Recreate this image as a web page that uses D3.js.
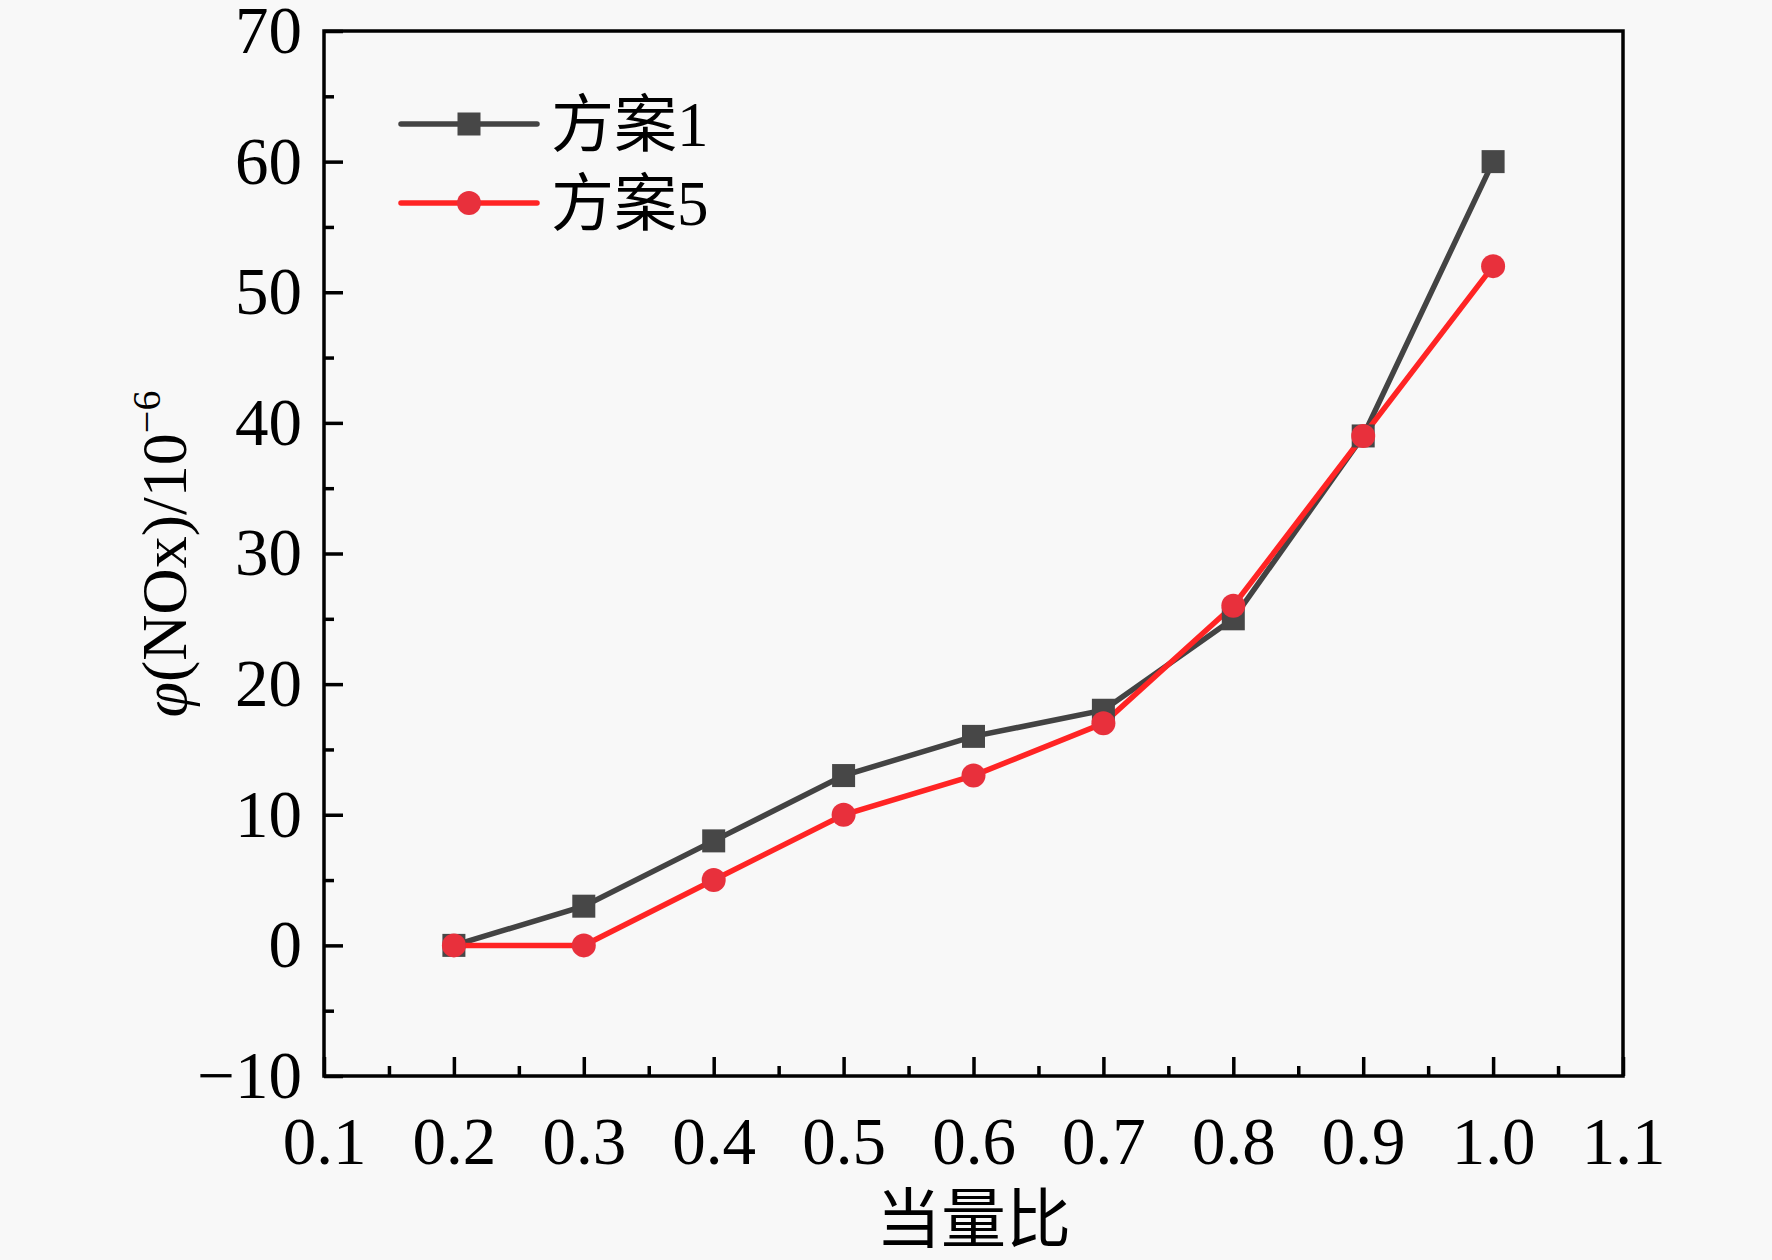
<!DOCTYPE html>
<html><head><meta charset="utf-8">
<script src="https://cdn.jsdelivr.net/npm/d3@7"></script>
<style>
html,body{margin:0;padding:0;background:#f8f8f8;}
svg{display:block;}
</style></head>
<body>
<script>
const xValues = [0.2, 0.3, 0.4, 0.5, 0.6, 0.7, 0.8, 0.9, 1.0];
const scheme1 = [0, 3, 8, 13, 16, 18, 25, 39, 60];
const scheme5 = [0, 0, 5, 10, 13, 17, 26, 39, 52];
const seriesNames = ["方案1", "方案5"];
const xTicks = [0.1, 0.2, 0.3, 0.4, 0.5, 0.6, 0.7, 0.8, 0.9, 1.0, 1.1];
const yTicks = [-10, 0, 10, 20, 30, 40, 50, 60, 70];
const xLabel = "当量比";

const W = 1772, H = 1260;
const L = 324, R = 1623, T = 31, B = 1076;
const FONT = "'Liberation Serif', 'Times New Roman', 'Noto Sans CJK SC', serif";

const svg = d3.select("body").append("svg").attr("width", W).attr("height", H);
svg.append("rect").attr("width", W).attr("height", H).attr("fill", "#f8f8f8");

const x = d3.scaleLinear().domain([0.1, 1.1]).range([L, R]);
const y = d3.scaleLinear().domain([-10, 70]).range([B, T]);

const axisColor = "#000";
const sw = 3.5;

// bottom axis
const xMinor = d3.range(0.15, 1.1, 0.1);
const gx = svg.append("g").attr("transform", `translate(0,${B})`)
  .call(d3.axisBottom(x).tickValues(xTicks).tickSize(-19).tickPadding(40)
    .tickFormat(d3.format(".1f")));
gx.select(".domain").remove();
gx.selectAll(".tick line").attr("stroke", axisColor).attr("stroke-width", sw);
gx.selectAll(".tick text").attr("font-family", FONT).attr("font-size", 67).attr("fill", "#000").attr("dy", "0.71em");
const gxm = svg.append("g").attr("transform", `translate(0,${B})`)
  .call(d3.axisBottom(x).tickValues(xMinor).tickSize(-10).tickFormat(""));
gxm.select(".domain").remove();
gxm.selectAll(".tick line").attr("stroke", axisColor).attr("stroke-width", sw);

// left axis
const yMinor = d3.range(-5, 70, 10);
const gy = svg.append("g").attr("transform", `translate(${L},0)`)
  .call(d3.axisLeft(y).tickValues(yTicks).tickSize(-19).tickPadding(22)
    .tickFormat(d => d < 0 ? "\u2212" + Math.abs(d) : d));
gy.select(".domain").remove();
gy.selectAll(".tick line").attr("stroke", axisColor).attr("stroke-width", sw);
gy.selectAll(".tick text").attr("font-family", FONT).attr("font-size", 67).attr("fill", "#000");
const gym = svg.append("g").attr("transform", `translate(${L},0)`)
  .call(d3.axisLeft(y).tickValues(yMinor).tickSize(-10).tickFormat(""));
gym.select(".domain").remove();
gym.selectAll(".tick line").attr("stroke", axisColor).attr("stroke-width", sw);

// frame
svg.append("rect").attr("x", L).attr("y", T).attr("width", R - L).attr("height", B - T)
  .attr("fill", "none").attr("stroke", axisColor).attr("stroke-width", sw);

// series
const data1 = xValues.map((v, i) => [v, scheme1[i]]);
const data5 = xValues.map((v, i) => [v, scheme5[i]]);
const line = d3.line().x(d => x(d[0])).y(d => y(d[1]));

const c1 = "#434343", c1m = "#474747";
const c5 = "#ff2424", c5m = "#e8303c";
const lw = 5.5;

svg.append("path").datum(data1).attr("d", line).attr("fill", "none")
  .attr("stroke", c1).attr("stroke-width", lw);
svg.append("path").datum(data5).attr("d", line).attr("fill", "none")
  .attr("stroke", c5).attr("stroke-width", lw);

const sq = 23;
svg.append("g").selectAll("rect").data(data1).join("rect")
  .attr("x", d => x(d[0]) - sq / 2).attr("y", d => y(d[1]) - sq / 2)
  .attr("width", sq).attr("height", sq).attr("fill", c1m);
svg.append("g").selectAll("circle").data(data5).join("circle")
  .attr("cx", d => x(d[0])).attr("cy", d => y(d[1])).attr("r", 12).attr("fill", c5m);

// legend
const legX0 = 401, legX1 = 537, legY = [124, 203];
const colorsL = [c1, c5], colorsM = [c1m, c5m];
legY.forEach((ly, i) => {
  svg.append("line").attr("x1", legX0).attr("x2", legX1).attr("y1", ly).attr("y2", ly)
    .attr("stroke", colorsL[i]).attr("stroke-width", lw).attr("stroke-linecap", "round");
  const cx = (legX0 + legX1) / 2;
  if (i === 0) {
    svg.append("rect").attr("x", cx - sq / 2).attr("y", ly - sq / 2).attr("width", sq).attr("height", sq).attr("fill", colorsM[i]);
  } else {
    svg.append("circle").attr("cx", cx).attr("cy", ly).attr("r", 12).attr("fill", colorsM[i]);
  }
  svg.append("text").attr("x", 551).attr("y", ly).attr("dy", "0.35em")
    .attr("font-family", FONT).attr("font-size", 63).attr("fill", "#000")
    .text(seriesNames[i]);
});

// axis titles
svg.append("text").attr("x", (L + R) / 2).attr("y", 1242)
  .attr("text-anchor", "middle").attr("font-family", FONT).attr("font-size", 65).attr("fill", "#000")
  .text(xLabel);

const yl = svg.append("text").attr("transform", `translate(186,${554}) rotate(-90)`)
  .attr("text-anchor", "middle").attr("font-family", FONT).attr("font-size", 64).attr("fill", "#000");
yl.append("tspan").attr("font-style", "italic").text("φ");
yl.append("tspan").text("(NOx)/10");
yl.append("tspan").attr("font-size", 40).attr("dy", -26).text("\u22126");
</script>
</body></html>
